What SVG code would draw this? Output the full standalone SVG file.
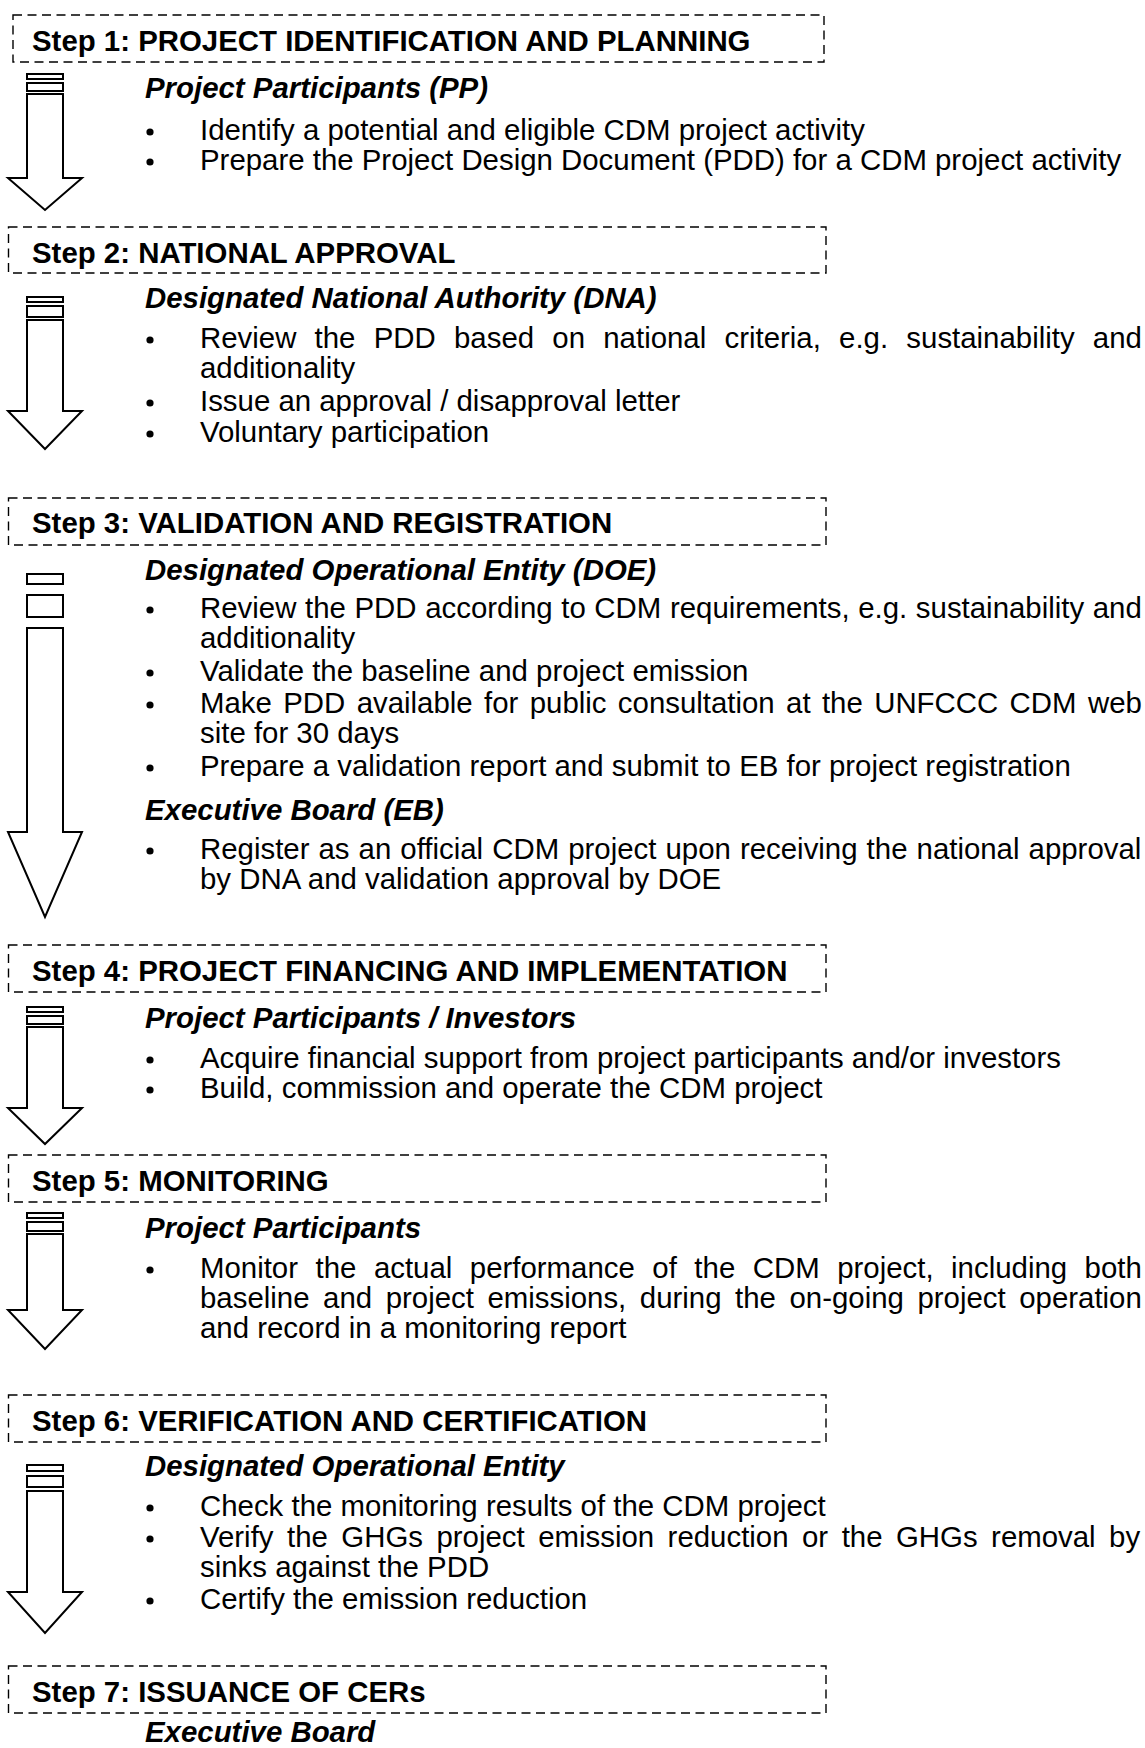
<svg xmlns="http://www.w3.org/2000/svg" width="1145" height="1748" viewBox="0 0 1145 1748">
<style>
text{font-family:"Liberation Sans",Arial,sans-serif;font-size:29.4px;fill:#000}
.t{font-weight:bold}
.s{font-weight:bold;font-style:italic}
.box{fill:none;stroke:#000;stroke-width:1.4;stroke-dasharray:9 5.5}
.ar{fill:#fff;stroke:#000;stroke-width:2;stroke-linejoin:miter}
.bu{fill:#000}
</style>
<rect width="1145" height="1748" fill="#fff"/>
<g id="connectors">
<g id="arrow1"><rect class="ar" x="27" y="74" width="36" height="5"/><rect class="ar" x="27" y="83" width="36" height="8"/><polygon class="ar" points="27,94 63,94 63,178 82,178 45,210 8,178 27,178"/></g>
<g id="arrow2"><rect class="ar" x="27" y="297" width="36" height="5"/><rect class="ar" x="27" y="306" width="36" height="11"/><polygon class="ar" points="27,320 63,320 63,411 82,411 45,449 8,411 27,411"/></g>
<g id="arrow3"><rect class="ar" x="27" y="574" width="36" height="10"/><rect class="ar" x="27" y="595" width="36" height="22"/><polygon class="ar" points="27,628 63,628 63,832 82,832 45,917 8,832 27,832"/></g>
<g id="arrow4"><rect class="ar" x="27" y="1007" width="36" height="5"/><rect class="ar" x="27" y="1016" width="36" height="8"/><polygon class="ar" points="27,1027 63,1027 63,1108 82,1108 45,1144 8,1108 27,1108"/></g>
<g id="arrow5"><rect class="ar" x="27" y="1213" width="36" height="5"/><rect class="ar" x="27" y="1222" width="36" height="9"/><polygon class="ar" points="27,1234 63,1234 63,1310 82,1310 45,1349 8,1310 27,1310"/></g>
<g id="arrow6"><rect class="ar" x="27" y="1465" width="36" height="6"/><rect class="ar" x="27" y="1476" width="36" height="11"/><polygon class="ar" points="27,1491 63,1491 63,1592 82,1592 45,1633 8,1592 27,1592"/></g>
</g>
<g id="step1">
<rect class="box" x="13" y="15" width="811" height="47"/>
<text class="t" x="32" y="51">Step 1: PROJECT IDENTIFICATION AND PLANNING</text>
<text class="s" x="145" y="98">Project Participants (PP)</text>
<circle class="bu" cx="150" cy="132" r="3.6"/>
<text x="200" y="140">Identify a potential and eligible CDM project activity</text>
<circle class="bu" cx="150" cy="162" r="3.6"/>
<text x="200" y="170">Prepare the Project Design Document (PDD) for a CDM project activity</text>
</g>
<g id="step2">
<rect class="box" x="8.5" y="227" width="817.5" height="46"/>
<text class="t" x="32" y="263">Step 2: NATIONAL APPROVAL</text>
<text class="s" x="145" y="308">Designated National Authority (DNA)</text>
<circle class="bu" cx="150" cy="340" r="3.6"/>
<text x="200" y="348" word-spacing="10.08">Review the PDD based on national criteria, e.g. sustainability and</text>
<text x="200" y="378">additionality</text>
<circle class="bu" cx="150" cy="403" r="3.6"/>
<text x="200" y="411">Issue an approval / disapproval letter</text>
<circle class="bu" cx="150" cy="434" r="3.6"/>
<text x="200" y="442">Voluntary participation</text>
</g>
<g id="step3">
<rect class="box" x="8.5" y="498" width="817.5" height="47"/>
<text class="t" x="32" y="533">Step 3: VALIDATION AND REGISTRATION</text>
<text class="s" x="145" y="580">Designated Operational Entity (DOE)</text>
<circle class="bu" cx="150" cy="610" r="3.6"/>
<text x="200" y="618" word-spacing="0.46">Review the PDD according to CDM requirements, e.g. sustainability and</text>
<text x="200" y="648">additionality</text>
<circle class="bu" cx="150" cy="673" r="3.6"/>
<text x="200" y="681">Validate the baseline and project emission</text>
<circle class="bu" cx="150" cy="705" r="3.6"/>
<text x="200" y="713" word-spacing="3.2">Make PDD available for public consultation at the UNFCCC CDM web</text>
<text x="200" y="743">site for 30 days</text>
<circle class="bu" cx="150" cy="768" r="3.6"/>
<text x="200" y="776">Prepare a validation report and submit to EB for project registration</text>
<text class="s" x="145" y="820">Executive Board (EB)</text>
<circle class="bu" cx="150" cy="851" r="3.6"/>
<text x="200" y="859" word-spacing="0.9">Register as an official CDM project upon receiving the national approval</text>
<text x="200" y="889">by DNA and validation approval by DOE</text>
</g>
<g id="step4">
<rect class="box" x="8.5" y="945" width="817.5" height="47"/>
<text class="t" x="32" y="981">Step 4: PROJECT FINANCING AND IMPLEMENTATION</text>
<text class="s" x="145" y="1028">Project Participants / Investors</text>
<circle class="bu" cx="150" cy="1060" r="3.6"/>
<text x="200" y="1068">Acquire financial support from project participants and/or investors</text>
<circle class="bu" cx="150" cy="1090" r="3.6"/>
<text x="200" y="1098">Build, commission and operate the CDM project</text>
</g>
<g id="step5">
<rect class="box" x="8.5" y="1155" width="817.5" height="47"/>
<text class="t" x="32" y="1191">Step 5: MONITORING</text>
<text class="s" x="145" y="1238">Project Participants</text>
<circle class="bu" cx="150" cy="1270" r="3.6"/>
<text x="200" y="1278" word-spacing="9.35">Monitor the actual performance of the CDM project, including both</text>
<text x="200" y="1308" word-spacing="5.4">baseline and project emissions, during the on-going project operation</text>
<text x="200" y="1338">and record in a monitoring report</text>
</g>
<g id="step6">
<rect class="box" x="8.5" y="1395" width="817.5" height="47"/>
<text class="t" x="32" y="1431">Step 6: VERIFICATION AND CERTIFICATION</text>
<text class="s" x="145" y="1476">Designated Operational Entity</text>
<circle class="bu" cx="150" cy="1508" r="3.6"/>
<text x="200" y="1516">Check the monitoring results of the CDM project</text>
<circle class="bu" cx="150" cy="1539" r="3.6"/>
<text x="200" y="1547" word-spacing="5.32">Verify the GHGs project emission reduction or the GHGs removal by</text>
<text x="200" y="1577">sinks against the PDD</text>
<circle class="bu" cx="150" cy="1601" r="3.6"/>
<text x="200" y="1609">Certify the emission reduction</text>
</g>
<g id="step7">
<rect class="box" x="8.5" y="1666" width="817.5" height="47"/>
<text class="t" x="32" y="1702">Step 7: ISSUANCE OF CERs</text>
<text class="s" x="145" y="1742">Executive Board</text>
</g>
</svg>
